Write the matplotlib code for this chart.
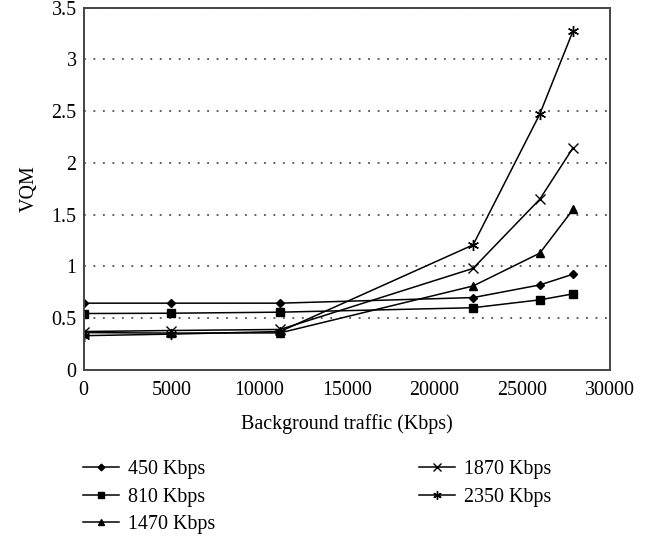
import matplotlib
matplotlib.use('Agg')
import matplotlib.pyplot as plt

plt.rcParams['font.family'] = 'Liberation Serif'

traffic = [0, 5000, 11200, 22200, 26000, 27900]
vqm_450 = [0.644, 0.644, 0.644, 0.698, 0.82, 0.924]
vqm_810 = [0.544, 0.547, 0.557, 0.60, 0.676, 0.734]
vqm_1470 = [0.36, 0.355, 0.357, 0.81, 1.127, 1.55]
vqm_1870 = [0.37, 0.38, 0.39, 0.98, 1.648, 2.146]
vqm_2350 = [0.33, 0.345, 0.37, 1.207, 2.47, 3.276]

series = [
    ('450 Kbps', vqm_450, 'D', 4.5),
    ('810 Kbps', vqm_810, 's', 5.5),
    ('1470 Kbps', vqm_1470, '^', 6),
    ('1870 Kbps', vqm_1870, 'x', 7),
    ('2350 Kbps', vqm_2350, (6, 2, 0), 8),
]

fs = 14.4
fig = plt.figure(figsize=(6.58, 5.36), dpi=100)
ax = fig.add_axes([0.127, 0.31, 0.8, 0.676])

for label, vals, mk, ms in series:
    ax.plot(traffic, vals, color='black', lw=1.1, marker=mk, markersize=ms,
            markeredgewidth=1.0, label=label)

ax.set_xlim(0, 30000)
ax.set_ylim(0, 3.5)
ax.set_xticks([0, 5000, 10000, 15000, 20000, 25000, 30000])
ax.set_yticks([0, 0.5, 1, 1.5, 2, 2.5, 3, 3.5])
ax.set_yticklabels(['0', '0.5', '1', '1.5', '2', '2.5', '3', '3.5'])
ax.tick_params(length=0, labelsize=fs)
ax.tick_params(axis='y', pad=5)
ax.tick_params(axis='x', pad=8)
ax.yaxis.grid(True, linestyle=(0, (1.2, 5)), color='#333333', lw=1.1)
ax.set_axisbelow(True)
for sp in ax.spines.values():
    sp.set_color('#444444')
    sp.set_linewidth(1.4)

ax.set_xlabel('Background traffic (Kbps)', fontsize=fs, labelpad=10)
ax.set_ylabel('VQM', fontsize=fs, labelpad=9)

fig.legend(loc='upper left', bbox_to_anchor=(0.126, 0.141), ncol=2,
           frameon=False, fontsize=fs, handlelength=1.8, handletextpad=0.45,
           columnspacing=10.2, labelspacing=0.42, borderpad=0, borderaxespad=0,
           markerscale=0.75)

fig.savefig('out.png', dpi=100)
